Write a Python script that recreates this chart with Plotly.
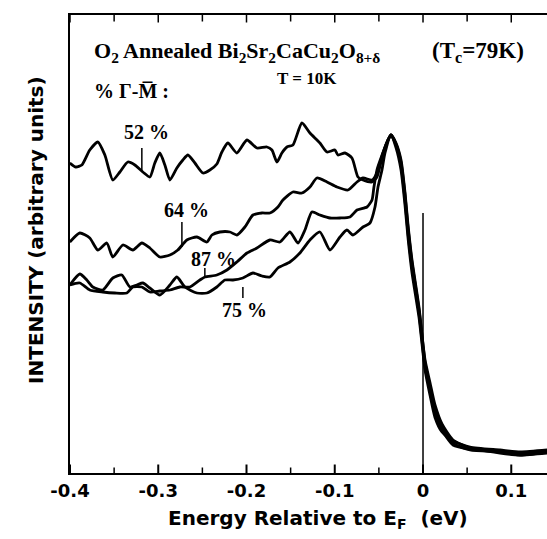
import plotly.graph_objects as go

# ---- data (energy in eV, intensity in arbitrary units) ----
tail_E = [-0.0306, -0.0249, -0.0204, -0.0170, -0.0125, -0.0045, 0.0023, 0.0079,
          0.0136, 0.0215, 0.0340, 0.0533, 0.0873, 0.1100, 0.1406]

e52 = [-0.4002, -0.3934, -0.3866, -0.3776, -0.3685, -0.3605, -0.3515, -0.3435, -0.3345,
       -0.3265, -0.3175, -0.3095, -0.3039, -0.2982, -0.2925, -0.2868, -0.2789, -0.2721,
       -0.2664, -0.2585, -0.2494, -0.2415, -0.2336, -0.2279, -0.2211, -0.2109, -0.1995,
       -0.1882, -0.1769, -0.1712, -0.1655, -0.1599, -0.1542, -0.1474, -0.1372, -0.1281,
       -0.1168, -0.1088, -0.0998, -0.0964, -0.0884, -0.0805, -0.0737, -0.0680, -0.0578,
       -0.0522, -0.0476, -0.0420, -0.0363]
i52 = [62.4, 61.6, 62.0, 65.0, 66.6, 64.0, 59.0, 60.6, 62.6, 62.0, 60.6, 59.6, 62.4, 64.4,
       62.0, 59.0, 61.4, 63.0, 64.0, 62.4, 60.4, 61.0, 62.2, 64.6, 66.4, 64.4, 67.0, 65.4,
       65.6, 65.0, 62.6, 64.4, 65.6, 66.0, 70.4, 68.4, 66.4, 64.6, 65.0, 64.0, 64.4, 63.4,
       59.6, 59.0, 58.6, 59.6, 62.6, 66.0, 68.0]
t52 = [66.0, 62.0, 55.0, 48.4, 41.6, 32.4, 21.6, 17.0, 13.0, 9.6, 6.4, 5.0, 4.6, 4.0, 4.6]

e64 = [-0.4002, -0.3889, -0.3776, -0.3685, -0.3583, -0.3515, -0.3401, -0.3288, -0.3186,
       -0.3095, -0.2982, -0.2868, -0.2778, -0.2676, -0.2562, -0.2449, -0.2392, -0.2302,
       -0.2188, -0.2109, -0.2018, -0.1927, -0.1825, -0.1735, -0.1644, -0.1587, -0.1474,
       -0.1372, -0.1281, -0.1202, -0.1088, -0.0975, -0.0850, -0.0748, -0.0680, -0.0578,
       -0.0522, -0.0454, -0.0408, -0.0363]
i64 = [46.6, 48.4, 47.4, 45.0, 46.4, 43.6, 46.0, 45.0, 46.4, 45.4, 43.6, 44.0, 45.0, 47.0,
       47.6, 46.6, 48.0, 48.6, 48.6, 48.0, 49.6, 52.0, 52.4, 52.4, 53.6, 55.0, 56.6, 56.4,
       57.6, 59.4, 58.6, 57.6, 57.0, 58.6, 59.4, 59.0, 60.4, 64.4, 66.6, 68.0]
t64 = [66.4, 63.0, 56.5, 50.0, 43.0, 33.5, 22.5, 17.5, 13.0, 9.0, 6.0, 5.2, 4.8, 4.4, 4.8]

e87 = [-0.4002, -0.3889, -0.3776, -0.3628, -0.3492, -0.3356, -0.3288, -0.3186, -0.3095,
       -0.2982, -0.2868, -0.2755, -0.2642, -0.2528, -0.2472, -0.2336, -0.2222, -0.2109,
       -0.1995, -0.1882, -0.1735, -0.1621, -0.1508, -0.1417, -0.1338, -0.1259, -0.1168,
       -0.1054, -0.0941, -0.0828, -0.0748, -0.0635, -0.0578, -0.0556, -0.0522, -0.0476,
       -0.0420, -0.0363]
i87 = [38.0, 38.4, 37.0, 36.6, 36.4, 36.4, 37.6, 37.6, 36.6, 36.8, 37.0, 37.6, 37.6, 39.0,
       39.6, 40.0, 41.0, 42.6, 44.4, 45.4, 47.0, 46.6, 48.6, 46.4, 49.0, 52.6, 52.0, 51.4,
       51.4, 51.6, 53.0, 53.6, 55.0, 57.6, 61.0, 63.4, 66.0, 68.0]
t87 = [65.5, 61.0, 54.0, 47.5, 40.5, 31.5, 21.0, 16.0, 11.5, 8.6, 6.8, 5.6, 5.0, 4.6, 5.0]

e75 = [-0.4002, -0.3889, -0.3810, -0.3741, -0.3628, -0.3515, -0.3413, -0.3322, -0.3243,
       -0.3175, -0.3095, -0.2982, -0.2868, -0.2789, -0.2698, -0.2562, -0.2449, -0.2336,
       -0.2245, -0.2154, -0.2041, -0.1927, -0.1825, -0.1735, -0.1644, -0.1508, -0.1395,
       -0.1281, -0.1168, -0.1054, -0.0941, -0.0862, -0.0794, -0.0680, -0.0601, -0.0544,
       -0.0510, -0.0465, -0.0431, -0.0363]
i75 = [38.0, 40.2, 39.0, 37.6, 37.0, 39.4, 40.0, 37.6, 38.0, 38.4, 37.4, 36.0, 38.0, 39.6,
       37.6, 36.4, 36.4, 37.6, 39.0, 39.0, 39.4, 40.4, 39.8, 39.6, 41.4, 42.6, 44.4, 47.0,
       48.6, 45.0, 47.6, 49.0, 48.0, 49.6, 50.4, 53.6, 57.6, 61.0, 64.4, 68.0]
t75 = [66.2, 62.5, 56.0, 49.5, 42.5, 33.0, 23.0, 18.5, 14.0, 10.2, 7.0, 5.4, 4.4, 4.0, 4.4]

# curve labels: text position, tick line (energy, top, bottom)
labels = ["52 %", "64 %", "87 %", "75 %"]
label_E = [-0.3129, -0.2676, -0.2370, -0.2018]
label_I = [68.6, 53.0, 43.2, 33.0]
tick_E = [-0.3186, -0.2732, -0.2472, -0.2041]
tick_top = [65.4, 50.6, 41.4, 37.6]
tick_bot = [60.6, 45.6, 39.6, 35.4]

fermi_E = [0.0, 0.0]
fermi_I = [52.4, 0.4]

xtick_vals = [-0.4, -0.3, -0.2, -0.1, 0.0, 0.1]
xtick_text = ["-0.4", "-0.3", "-0.2", "-0.1", "0", "0.1"]
xminor_vals = [-0.35, -0.25, -0.15, -0.05, 0.05]

SERIF = "Liberation Serif, Times New Roman, serif"
SANS = "DejaVu Sans, Arial, sans-serif"
X_RANGE = [-0.4, 0.1405]
Y_RANGE = [0.4, 92]

fig = go.Figure()
for e, i, t in [(e52, i52, t52), (e64, i64, t64), (e87, i87, t87), (e75, i75, t75)]:
    fig.add_trace(go.Scatter(x=e + tail_E, y=i + t, mode="lines",
                             line=dict(color="black", width=2.8, shape="spline", smoothing=0.6),
                             showlegend=False, hoverinfo="skip"))

fig.add_trace(go.Scatter(x=fermi_E, y=fermi_I, mode="lines",
                         line=dict(color="black", width=1.5), showlegend=False, hoverinfo="skip"))

for k in range(len(labels)):
    fig.add_trace(go.Scatter(x=[tick_E[k], tick_E[k]], y=[tick_top[k], tick_bot[k]], mode="lines",
                             line=dict(color="black", width=1.5), showlegend=False, hoverinfo="skip"))
    fig.add_annotation(x=label_E[k], y=label_I[k], xref="x", yref="y", text="<b>" + labels[k] + "</b>",
                       showarrow=False, font=dict(family=SERIF, size=20, color="black"))


# inward-pointing frame ticks drawn as short line segments from the tick value lists
def tick_segments(vals, edge, length):
    xs, ys = [], []
    for v in vals:
        xs += [v, v, None]
        ys += [edge, edge + length, None]
    return xs, ys


for vals, edge, length, width in [(xtick_vals, Y_RANGE[0], 1.7, 2.0),
                                  (xminor_vals, Y_RANGE[0], 1.1, 1.5),
                                  (xtick_vals, Y_RANGE[1], -1.5, 1.5),
                                  (xminor_vals, Y_RANGE[1], -1.3, 1.5)]:
    xs, ys = tick_segments(vals, edge, length)
    fig.add_trace(go.Scatter(x=xs, y=ys, mode="lines", cliponaxis=False,
                             line=dict(color="black", width=width),
                             showlegend=False, hoverinfo="skip"))

fig.add_annotation(x=0.046, y=0.919, xref="paper", yref="paper", xanchor="left", yanchor="middle",
                   text="<b>O<sub>2</sub> Annealed Bi<sub>2</sub>Sr<sub>2</sub>CaCu<sub>2</sub>O<sub>8+δ</sub></b>",
                   showarrow=False, font=dict(family=SERIF, size=22, color="black"))
fig.add_annotation(x=0.755, y=0.919, xref="paper", yref="paper", xanchor="left", yanchor="middle",
                   text="<b>(T<sub>c</sub>=79K)</b>",
                   showarrow=False, font=dict(family=SERIF, size=23, color="black"))
fig.add_annotation(x=0.497, y=0.862, xref="paper", yref="paper", xanchor="center", yanchor="middle",
                   text="<b>T = 10K</b>", showarrow=False, font=dict(family=SERIF, size=17, color="black"))
fig.add_annotation(x=0.046, y=0.834, xref="paper", yref="paper", xanchor="left", yanchor="middle",
                   text="<b>% Γ-M\u0305 :</b>", showarrow=False, font=dict(family=SERIF, size=20, color="black"))

fig.add_annotation(x=-0.071, y=0.531, xref="paper", yref="paper", xanchor="center", yanchor="middle",
                   text="<b>INTENSITY (arbitrary units)</b>", textangle=-90, showarrow=False,
                   font=dict(family=SANS, size=20, color="black"))
fig.add_annotation(x=0.52, y=-0.10, xref="paper", yref="paper", xanchor="center", yanchor="middle",
                   text="<b>Energy Relative to E<sub>F</sub>  (eV)</b>", showarrow=False,
                   font=dict(family=SANS, size=20, color="black"))

fig.update_layout(
    width=547, height=539,
    margin=dict(l=70, r=0, t=15, b=66),
    paper_bgcolor="white", plot_bgcolor="white",
    xaxis=dict(range=X_RANGE, tickmode="array", tickvals=xtick_vals, ticktext=xtick_text,
               ticks="", showline=True, linecolor="black", linewidth=2, mirror=True,
               showgrid=False, zeroline=False,
               tickfont=dict(family=SANS, size=18, color="black", weight="bold")),
    yaxis=dict(range=Y_RANGE, showticklabels=False, ticks="", showline=True,
               linecolor="black", linewidth=1.5, showgrid=False, zeroline=False),
)

fig.write_html("out.html")
